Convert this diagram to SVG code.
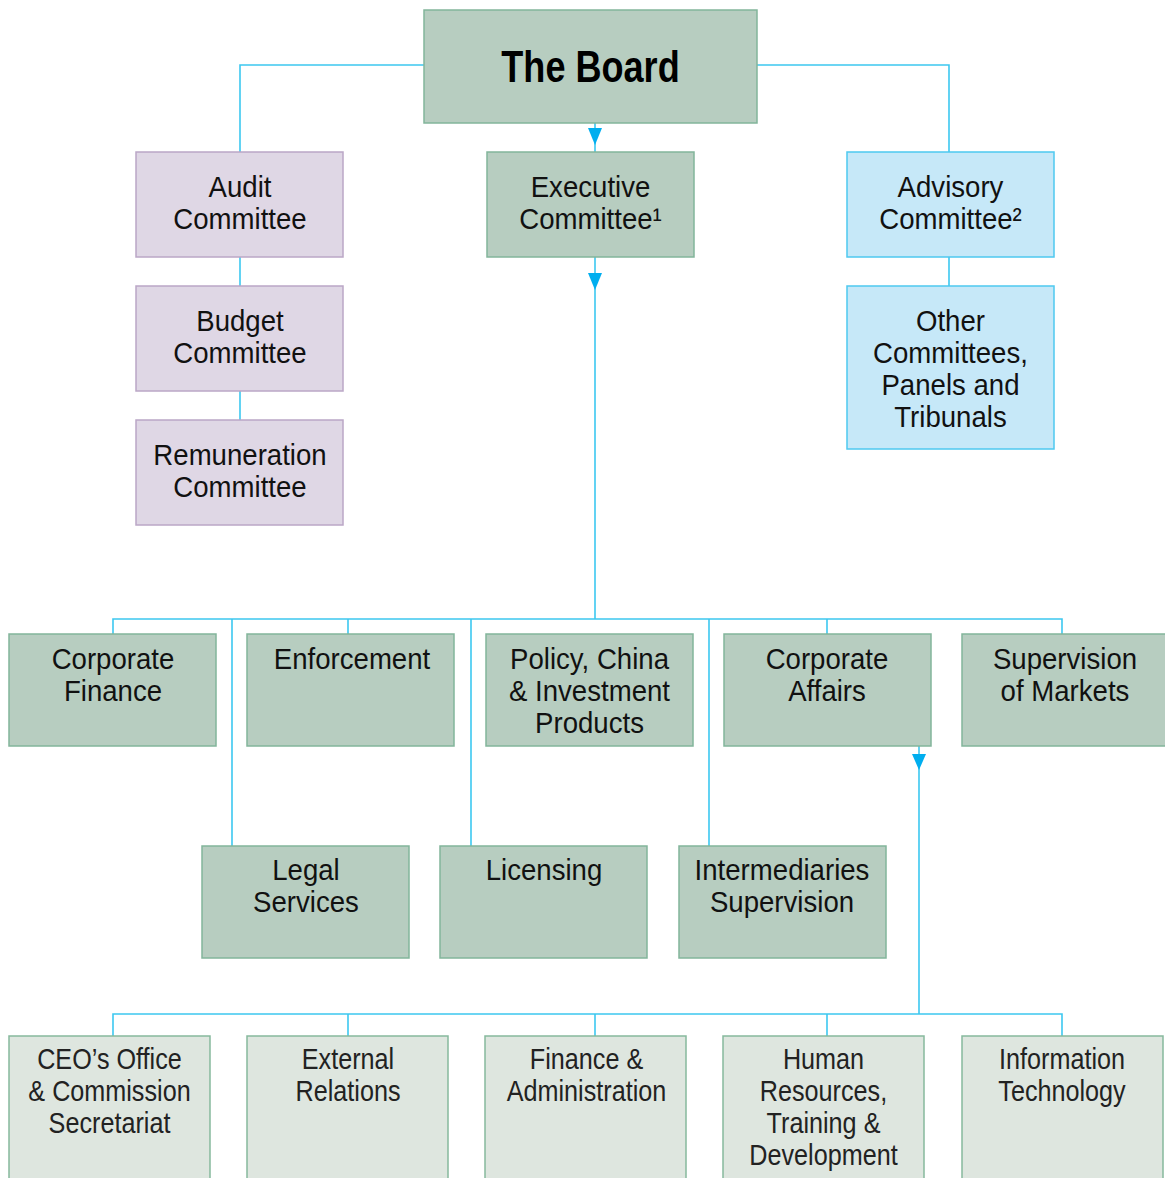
<svg xmlns="http://www.w3.org/2000/svg" width="1165" height="1178" viewBox="0 0 1165 1178">
<style>
.g{fill:#b7cdc0;stroke:#82b59b;stroke-width:1.5}
.p{fill:#dfd7e5;stroke:#bba7c6;stroke-width:1.5}
.b{fill:#c6e8f8;stroke:#4ec9f0;stroke-width:1.5}
.l{fill:#dee6df;stroke:#86b99d;stroke-width:1.5}
.c{fill:none;stroke:#3cc8f0;stroke-width:1.6}
.a{fill:#00aeef}
text{font-family:"Liberation Sans",Arial,sans-serif;font-size:30px;fill:#111;text-anchor:middle}
.lt{fill:#222}
.t{font-weight:bold;font-size:44px;fill:#000}
</style>
<rect width="1165" height="1178" fill="#fff"/>
<g id="connectors">
<path class="c" d="M424 65H240V152M757 65H949V152M595 123V152M240 257V286M240 391V420M949 257V286"/>
<path class="c" d="M595 257V619M113 634V619H1062V634M348 619V634M827 619V634M232 619V846M471 619V846M709 619V846"/>
<path class="c" d="M919 746V1014M113 1036V1014H1062V1036M348 1014V1036M595 1014V1036M827 1014V1036"/>
<path class="a" d="M588 128H602L595 145Z"/>
<path class="a" d="M588 273H602L595 290Z"/>
<path class="a" d="M912 754H926L919 770Z"/>
</g>
<g id="board"><rect class="g" x="424" y="10" width="333" height="113"/><text class="t" transform="translate(590.5 82) scale(0.82 1)" x="0">The Board</text></g>
<g id="audit"><rect class="p" x="136" y="152" width="207" height="105"/><text transform="translate(240 197) scale(0.92 1)"><tspan x="0">Audit</tspan><tspan x="0" dy="32">Committee</tspan></text></g>
<g id="budget"><rect class="p" x="136" y="286" width="207" height="105"/><text transform="translate(240 331) scale(0.92 1)"><tspan x="0">Budget</tspan><tspan x="0" dy="32">Committee</tspan></text></g>
<g id="remuneration"><rect class="p" x="136" y="420" width="207" height="105"/><text transform="translate(240 465) scale(0.92 1)"><tspan x="0">Remuneration</tspan><tspan x="0" dy="32">Committee</tspan></text></g>
<g id="executive"><rect class="g" x="487" y="152" width="207" height="105"/><text transform="translate(590.5 197) scale(0.92 1)"><tspan x="0">Executive</tspan><tspan x="0" dy="32">Committee¹</tspan></text></g>
<g id="advisory"><rect class="b" x="847" y="152" width="207" height="105"/><text transform="translate(950.5 197) scale(0.92 1)"><tspan x="0">Advisory</tspan><tspan x="0" dy="32">Committee²</tspan></text></g>
<g id="other"><rect class="b" x="847" y="286" width="207" height="163"/><text transform="translate(950.5 331) scale(0.92 1)"><tspan x="0">Other</tspan><tspan x="0" dy="32">Committees,</tspan><tspan x="0" dy="32">Panels and</tspan><tspan x="0" dy="32">Tribunals</tspan></text></g>
<g id="corpfin"><rect class="g" x="9" y="634" width="207" height="112"/><text transform="translate(113 669) scale(0.92 1)"><tspan x="0">Corporate</tspan><tspan x="0" dy="32">Finance</tspan></text></g>
<g id="enforcement"><rect class="g" x="247" y="634" width="207" height="112"/><text transform="translate(352 669) scale(0.92 1)"><tspan x="0">Enforcement</tspan></text></g>
<g id="policy"><rect class="g" x="486" y="634" width="207" height="112"/><text transform="translate(589.5 669) scale(0.92 1)"><tspan x="0">Policy, China</tspan><tspan x="0" dy="32">&amp; Investment</tspan><tspan x="0" dy="32">Products</tspan></text></g>
<g id="corpaffairs"><rect class="g" x="724" y="634" width="207" height="112"/><text transform="translate(827 669) scale(0.92 1)"><tspan x="0">Corporate</tspan><tspan x="0" dy="32">Affairs</tspan></text></g>
<g id="supervision"><rect class="g" x="962" y="634" width="210" height="112"/><text transform="translate(1065 669) scale(0.92 1)"><tspan x="0">Supervision</tspan><tspan x="0" dy="32">of Markets</tspan></text></g>
<g id="legal"><rect class="g" x="202" y="846" width="207" height="112"/><text transform="translate(306 880) scale(0.92 1)"><tspan x="0">Legal</tspan><tspan x="0" dy="32">Services</tspan></text></g>
<g id="licensing"><rect class="g" x="440" y="846" width="207" height="112"/><text transform="translate(544 880) scale(0.92 1)"><tspan x="0">Licensing</tspan></text></g>
<g id="intermediaries"><rect class="g" x="679" y="846" width="207" height="112"/><text transform="translate(782 880) scale(0.92 1)"><tspan x="0">Intermediaries</tspan><tspan x="0" dy="32">Supervision</tspan></text></g>
<g id="ceo"><rect class="l" x="9" y="1036" width="201" height="150"/><text class="lt" transform="translate(109.5 1069) scale(0.84 1)"><tspan x="0">CEO’s Office</tspan><tspan x="0" dy="32">&amp; Commission</tspan><tspan x="0" dy="32">Secretariat</tspan></text></g>
<g id="external"><rect class="l" x="247" y="1036" width="201" height="150"/><text class="lt" transform="translate(348 1069) scale(0.84 1)"><tspan x="0">External</tspan><tspan x="0" dy="32">Relations</tspan></text></g>
<g id="finance"><rect class="l" x="485" y="1036" width="201" height="150"/><text class="lt" transform="translate(586.5 1069) scale(0.84 1)"><tspan x="0">Finance &amp;</tspan><tspan x="0" dy="32">Administration</tspan></text></g>
<g id="hr"><rect class="l" x="723" y="1036" width="201" height="150"/><text class="lt" transform="translate(823.5 1069) scale(0.84 1)"><tspan x="0">Human</tspan><tspan x="0" dy="32">Resources,</tspan><tspan x="0" dy="32">Training &amp;</tspan><tspan x="0" dy="32">Development</tspan></text></g>
<g id="it"><rect class="l" x="962" y="1036" width="201" height="150"/><text class="lt" transform="translate(1062 1069) scale(0.84 1)"><tspan x="0">Information</tspan><tspan x="0" dy="32">Technology</tspan></text></g>
</svg>
